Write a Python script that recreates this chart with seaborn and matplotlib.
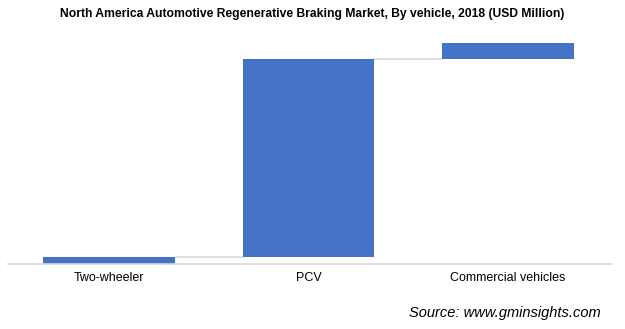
import matplotlib
matplotlib.use("Agg")
import matplotlib.pyplot as plt
import seaborn as sns
import numpy as np
import pandas as pd

categories = ["Two-wheeler", "PCV", "Commercial vehicles"]
values = [10, 276, 22]

sns.set_theme(style="white")
plt.rcParams['font.family'] = ['Liberation Sans', 'DejaVu Sans']
plt.rcParams['text.color'] = '#000000'

df = pd.DataFrame({"cat": categories, "val": values})
ends = np.cumsum(values)
starts = ends - np.array(values)
df["start"] = starts

fig = plt.figure(figsize=(6.25, 3.29), dpi=100)
ax = fig.add_axes([8/625, 1-264/329, (612-8)/625, (264-43)/329])

sns.barplot(data=df, x="cat", y="val", bottom=df["start"].values, color="#4472C4",
            saturation=1, width=0.66, linewidth=0, edgecolor="none", ax=ax)

for i in range(len(values) - 1):
    ax.plot([i + 0.33, i + 1 - 0.33], [ends[i], ends[i]], color="#D9D9D9", lw=1.2, zorder=0)

ax.set_xlim(-0.505, 2.52)
ax.set_ylim(0, ends[-1])
ax.set_xlabel("")
ax.set_ylabel("")
ax.set_yticks([])
for s in ["top", "right", "left"]:
    ax.spines[s].set_visible(False)
ax.spines["bottom"].set_color("#D9D9D9")
ax.spines["bottom"].set_linewidth(1.2)
ax.tick_params(axis="x", length=0, pad=6, labelsize=9, colors="#000000")

fig.text(0.5, 1-14/329, "North America Automotive Regenerative Braking Market, By vehicle, 2018 (USD Million)",
         ha="center", va="center", fontsize=8.7, fontweight="bold", color="#000000",
         family=["Liberation Sans Narrow", "Liberation Sans", "DejaVu Sans"])
fig.text(601/625, 1-313/329, "Source: www.gminsights.com", ha="right", va="center",
         fontsize=10.5, style="italic", color="#000000")

fig.savefig("out.png", dpi=100)
